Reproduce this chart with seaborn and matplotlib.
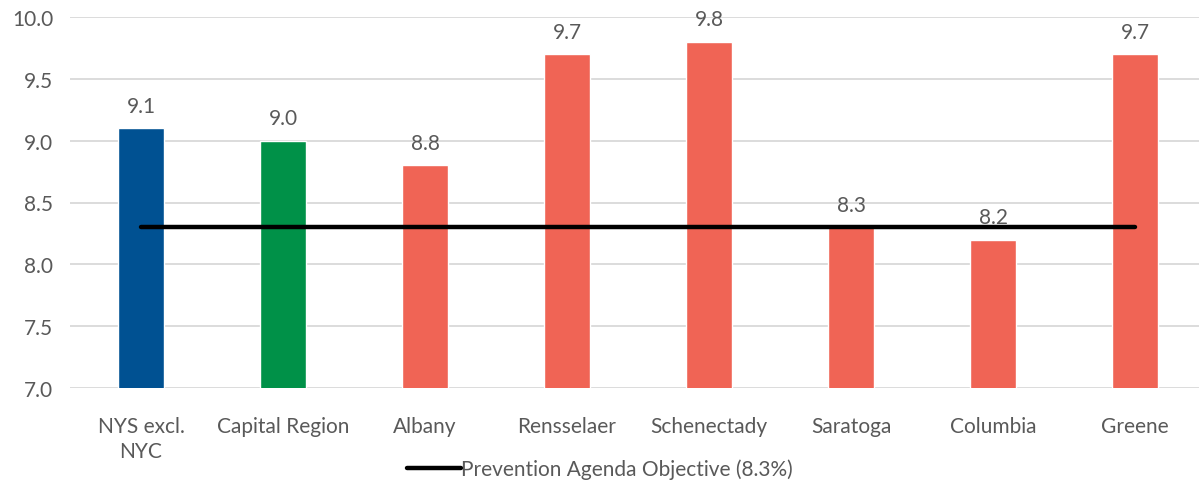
import matplotlib
matplotlib.use("Agg")
import matplotlib.pyplot as plt
import seaborn as sns
import pandas as pd

regions = ["NYS excl.\nNYC", "Capital Region", "Albany", "Rensselaer",
           "Schenectady", "Saratoga", "Columbia", "Greene"]
rates = [9.1, 9.0, 8.8, 9.7, 9.8, 8.3, 8.2, 9.7]
bar_colors = ["#005192", "#009148", "#F06455", "#F06455",
              "#F06455", "#F06455", "#F06455", "#F06455"]
objective = 8.3
objective_label = "Prevention Agenda Objective (8.3%)"
y_ticks = [7.0, 7.5, 8.0, 8.5, 9.0, 9.5, 10.0]

sns.set_theme(style="white")
plt.rcParams["font.family"] = ["Lato", "DejaVu Sans"]
text_color = "#595959"
fs = 15

df = pd.DataFrame({"region": regions, "rate": rates})

fig = plt.figure(figsize=(11.99, 4.89), dpi=100)
ax = fig.add_axes([70 / 1199, 1 - 389 / 489, (1199 - 70) / 1199, (389 - 18) / 489])

sns.barplot(data=df, x="region", y="rate", hue="region", palette=bar_colors,
            width=0.32, legend=False, ax=ax, zorder=2, saturation=1)

ax.set_ylim(7.0, 10.0)
ax.set_xlim(-0.5, 7.45)
ax.set_yticks(y_ticks)
ax.set_yticklabels([f"{t:.1f}" for t in y_ticks])
ax.yaxis.grid(True, color="#D9D9D9", linewidth=1.3, zorder=0)
ax.set_axisbelow(True)
for s in ax.spines.values():
    s.set_visible(False)
ax.set_xlabel("")
ax.set_ylabel("")
ax.tick_params(axis="both", length=0, labelsize=fs, labelcolor=text_color)
ax.tick_params(axis="y", pad=12)
ax.tick_params(axis="x", pad=20)
for lbl in ax.get_xticklabels():
    lbl.set_linespacing(1.35)

for i, v in enumerate(rates):
    ax.text(i, v + 0.1, f"{v:.1f}", ha="center", va="bottom",
            fontsize=fs, color=text_color)

# Objective line across all regions
ax.plot([0, len(regions) - 1], [objective, objective], color="black",
        linewidth=3.2, solid_capstyle="round", zorder=3, label=objective_label)

leg = fig.legend(loc="center", bbox_to_anchor=(0.5, 1 - 470 / 489), frameon=False,
                 fontsize=fs, handlelength=2.6, handletextpad=0.0)
for t in leg.get_texts():
    t.set_color(text_color)

fig.savefig("out.png", dpi=100)
